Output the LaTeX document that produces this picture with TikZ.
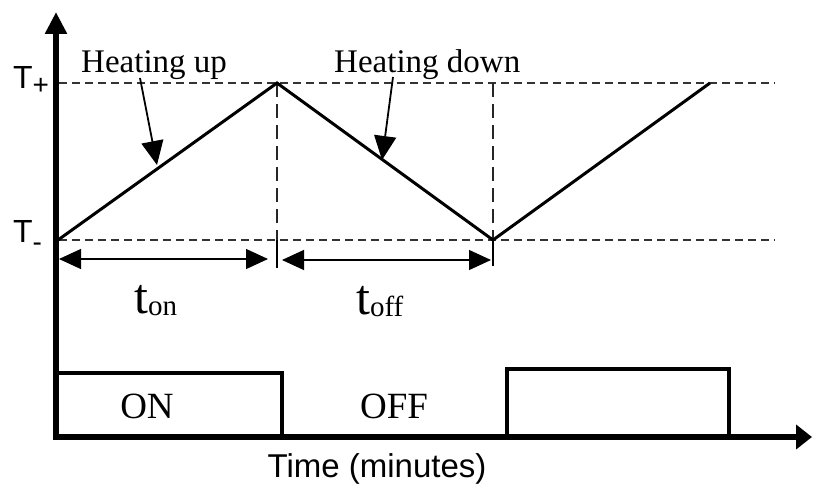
\documentclass[tikz,border=0pt]{standalone}
\usepackage{fontspec}
\setmainfont{Liberation Serif}
\newfontfamily\sansf{Liberation Sans}
\usetikzlibrary{arrows.meta}
\begin{document}
\begin{tikzpicture}[x=1pt,y=-1pt,
 axis/.style={line width=5.5pt, line join=miter, {Triangle[length=22pt,width=21pt]}-{Triangle[length=16pt,width=24pt]}},
 wave/.style={line width=3pt, line join=miter},
 guide/.style={line width=1.3pt, dash pattern=on 8pt off 5pt, draw=black!80},
 vguide/.style={line width=1.8pt, dash pattern=on 14pt off 7pt, draw=black!85},
 tickmark/.style={line width=1.2pt},
 dim/.style={line width=1.2pt, {Triangle[length=22pt,width=20pt]}-{Triangle[length=22pt,width=20pt]}},
 pointer/.style={line width=1.8pt, -{Triangle[length=24pt,width=22pt]}},
 pulse/.style={line width=4.5pt, line join=miter},
 lbl/.style={inner sep=0pt},
 serifhead/.style={font=\fontsize{33}{33}\selectfont},
 stateL/.style={font=\fontsize{37}{37}\selectfont},
 sansL/.style={font=\sansf\fontsize{32}{32}\selectfont},
]
\useasboundingbox (0,0) rectangle (813,487);

% key points
\coordinate (O) at (56,437);
\coordinate (Ytop) at (56,12);
\coordinate (Xend) at (812,437);
\coordinate (A) at (58,240);
\coordinate (P) at (277,83);
\coordinate (Q) at (493,240);
\coordinate (R) at (710,83);
\coordinate (HPl) at (59,83);
\coordinate (HPr) at (775,83);
\coordinate (HMl) at (59,240);
\coordinate (HMr) at (775,240);
\coordinate (Pb) at (277,240);
\coordinate (Pt) at (277,268);
\coordinate (Qt) at (493,266);
\coordinate (Qtop) at (493,83);
\coordinate (d1a) at (59,259);
\coordinate (d1b) at (268,259);
\coordinate (d2a) at (282,260);
\coordinate (d2b) at (491,260);

% guides
\draw[guide] (HPl) -- (HPr);
\draw[guide] (HMl) -- (HMr);
\draw[vguide] (P) -- (Pb);
\draw[vguide] (Qtop) -- (Q);
\draw[tickmark] (Pb) -- (Pt);
\draw[tickmark] (Q) -- (Qt);

% waveform
\draw[wave] (A) -- (P) -- (Q) -- (R);

% dimension arrows
\draw[dim] (d1a) -- (d1b);
\draw[dim] (d2a) -- (d2b);

% labels
\node[lbl, serifhead, anchor=base west] (hu) at (81,72) {Heating up};
\node[lbl, serifhead, anchor=base west] (hd) at (334,73) {Heating down};
\coordinate (hus) at (140,78);
\coordinate (hue) at (157,165);
\coordinate (hds) at (393,77);
\coordinate (hde) at (382,160);
\draw[pointer] (hus) -- (hue);
\draw[pointer] (hds) -- (hde);

\node[lbl, anchor=base west] (ton) at (134,313) {\fontsize{50}{50}\selectfont t\raisebox{-2pt}{\fontsize{29}{29}\selectfont on}};
\node[lbl, anchor=base west] (toff) at (356,314) {\fontsize{50}{50}\selectfont t\raisebox{-2pt}{\fontsize{29}{29}\selectfont off}};

\node[lbl, sansL, anchor=base west] (Tp) at (13,88) {T\raisebox{-6pt}{\fontsize{28}{28}\selectfont +}};
\node[lbl, sansL, anchor=base west] (Tm) at (13,242) {T\raisebox{-9pt}{\fontsize{28}{28}\selectfont -}};

% pulses
\coordinate (p1a) at (56,373);
\coordinate (p1b) at (282,373);
\coordinate (p1c) at (282,437);
\coordinate (p2a) at (507,437);
\coordinate (p2b) at (507,369);
\coordinate (p2c) at (729,369);
\coordinate (p2d) at (729,437);
\draw[pulse] (p1a) -- (p1b) -- (p1c);
\draw[pulse] (p2a) -- (p2b) -- (p2c) -- (p2d);

\node[lbl, stateL, anchor=base] (on) at (147,418) {ON};
\node[lbl, stateL, anchor=base] (off) at (394,418) {OFF};

% axes
\draw[axis] (Ytop) -- (O) -- (Xend);

\node[lbl, anchor=base, font=\sansf\fontsize{33}{33}\selectfont] (time) at (377,477) {Time (minutes)};
\end{tikzpicture}
\end{document}
